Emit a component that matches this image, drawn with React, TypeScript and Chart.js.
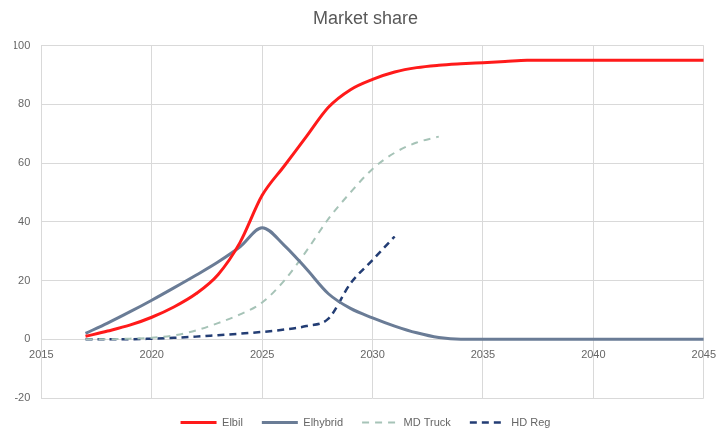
import React, { useEffect, useRef } from "react";
import { Chart, registerables } from "chart.js";

Chart.register(...registerables);

const elbilYears = [2017, 2018, 2019, 2020, 2021, 2022, 2023, 2024, 2025, 2026, 2027, 2028, 2029, 2030, 2031, 2032, 2033, 2034, 2035, 2036, 2037, 2038, 2039, 2040, 2041, 2042, 2043, 2044, 2045];
const elbilValues = [1, 2.8, 4.8, 7.5, 11, 15.5, 22, 33, 49, 59, 69, 79, 85, 88.5, 91, 92.5, 93.3, 93.8, 94.2, 94.6, 95, 95, 95, 95, 95, 95, 95, 95, 95];

const elhybridYears = elbilYears;
const elhybridValues = [2, 5.5, 9.3, 13.3, 17.5, 21.8, 26.3, 31.5, 38, 32, 24, 15.5, 10.5, 7.3, 4.5, 2.2, 0.6, 0, 0, 0, 0, 0, 0, 0, 0, 0, 0, 0, 0];

const mdTruckYears = [2017, 2018, 2019, 2020, 2021, 2022, 2023, 2024, 2025, 2026, 2027, 2028, 2029, 2030, 2031, 2032, 2033];
const mdTruckValues = [0, 0, 0.2, 0.5, 1.3, 3, 5.5, 8.5, 12.5, 20, 30, 41, 50, 58, 63.5, 67, 69];

const hdRegYears = [2017, 2018, 2019, 2020, 2021, 2022, 2023, 2024, 2025, 2026, 2027, 2028, 2029, 2030, 2031];
const hdRegValues = [0, 0, 0, 0.2, 0.5, 0.9, 1.4, 1.9, 2.5, 3.3, 4.5, 7, 19, 27, 35];

const seriesNames = ["Elbil", "Elhybrid", "MD Truck", "HD Reg"];
const titleText = "Market share";

const toPoints = (xs: number[], ys: number[]) => xs.map((x, i) => ({ x, y: ys[i] }));

export default function App() {
  const ref = useRef<HTMLCanvasElement | null>(null);
  useEffect(() => {
    if (!ref.current) return;
    const font = "'Liberation Sans', Arial, sans-serif";
    const chart = new Chart(ref.current, {
      type: "line",
      data: {
        datasets: [
          {
            label: seriesNames[0],
            data: toPoints(elbilYears, elbilValues),
            borderColor: "#ff1a1a",
            backgroundColor: "#ff1a1a",
            borderWidth: 3,
          },
          {
            label: seriesNames[1],
            data: toPoints(elhybridYears, elhybridValues),
            borderColor: "#6a7c96",
            backgroundColor: "#6a7c96",
            borderWidth: 3,
          },
          {
            label: seriesNames[2],
            data: toPoints(mdTruckYears, mdTruckValues),
            borderColor: "#a6c3b7",
            backgroundColor: "#a6c3b7",
            borderWidth: 2,
            borderDash: [7, 6],
          },
          {
            label: seriesNames[3],
            data: toPoints(hdRegYears, hdRegValues),
            borderColor: "#233d74",
            backgroundColor: "#233d74",
            borderWidth: 2.5,
            borderDash: [7, 5],
          },
        ],
      },
      options: {
        animation: false,
        responsive: true,
        maintainAspectRatio: false,
        elements: {
          point: { radius: 0, hoverRadius: 0 },
          line: { cubicInterpolationMode: "monotone", fill: false },
        },
        layout: { padding: { left: 14, right: 0, top: 0, bottom: -5 } },
        plugins: {
          title: {
            display: true,
            text: titleText,
            color: "#595959",
            font: { family: font, size: 18, weight: "normal" },
            padding: { top: 8, bottom: 16 },
          },
          legend: {
            position: "bottom",
            labels: {
              color: "#666666",
              font: { family: font, size: 11 },
              usePointStyle: true,
              pointStyle: "line",
              pointStyleWidth: 36,
              boxHeight: 11,
              padding: 19,
              generateLabels: (c: any) => {
                const items = Chart.defaults.plugins.legend.labels.generateLabels(c);
                items.forEach((it: any) => {
                  const ds: any = c.data.datasets[it.datasetIndex];
                  it.lineDash = ds.borderDash || [];
                  it.lineWidth = ds.borderWidth;
                  it.strokeStyle = ds.borderColor;
                  it.fillStyle = ds.borderColor;
                  it.pointStyle = "line";
                  it.fontColor = "#666666";
                });
                return items;
              },
            },
          },
          tooltip: { enabled: false },
        },
        scales: {
          x: {
            type: "linear",
            min: 2015,
            max: 2045,
            position: { y: 0 },
            ticks: {
              stepSize: 5,
              color: "#666666",
              font: { family: font, size: 11, lineHeight: "29px" },
              padding: 1,
              callback: (v: any) => String(v),
            },
            grid: { color: "#d9d9d9", drawTicks: false },
            border: { display: false },
          },
          y: {
            min: -20,
            max: 100,
            afterFit: (s: any) => {
              s.width -= 13;
            },
            ticks: {
              stepSize: 20,
              color: "#666666",
              font: { family: font, size: 11 },
              padding: 11,
            },
            grid: { color: "#d9d9d9", drawTicks: false },
            border: { display: false },
          },
        },
      },
    });
    return () => chart.destroy();
  }, []);
  return (
    <div style={{ position: "absolute", left: 0, top: 0, width: 717, height: 433, background: "#fff" }}>
      <canvas ref={ref} />
    </div>
  );
}
